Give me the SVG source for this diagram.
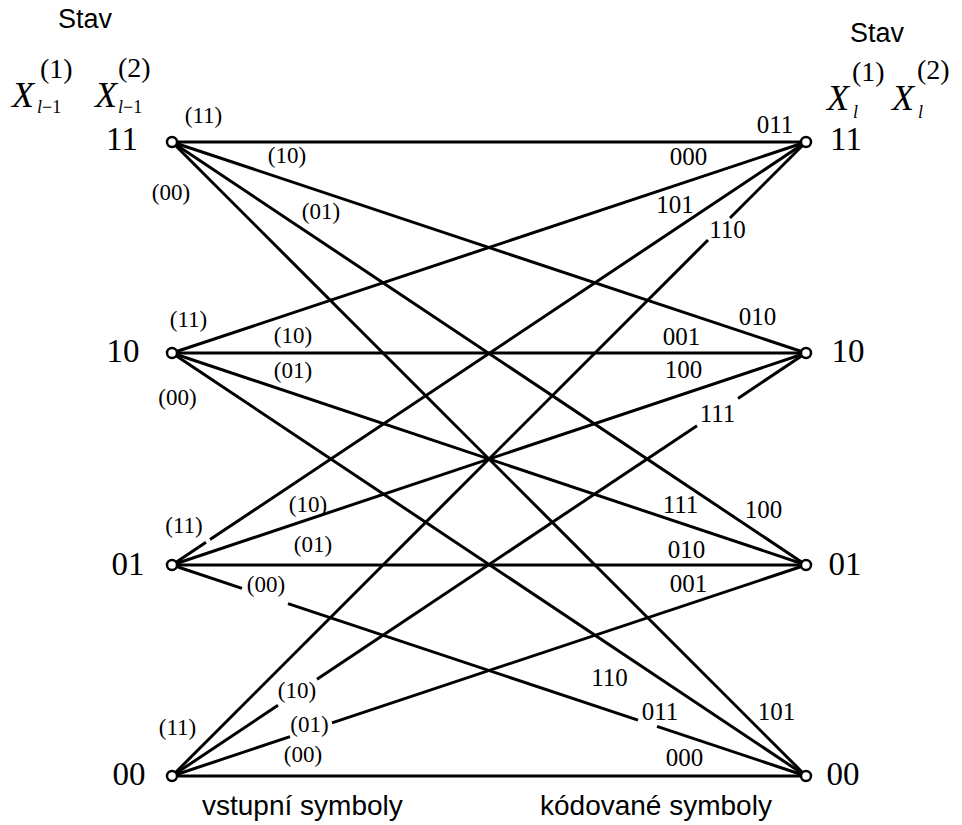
<svg xmlns="http://www.w3.org/2000/svg" width="962" height="825" viewBox="0 0 962 825">
<style>
.e{stroke:#000;stroke-width:3;fill:none;stroke-linecap:butt}
.n{fill:#fff;stroke:#000;stroke-width:2.5}
.nl{font-family:"Liberation Serif","Times New Roman",serif;font-size:33px;text-anchor:middle;fill:#000}
.il{font-family:"Liberation Serif","Times New Roman",serif;font-size:23px;text-anchor:middle;fill:#000}
.ol{font-family:"Liberation Serif","Times New Roman",serif;font-size:25px;text-anchor:middle;fill:#000}
.s{font-family:"Liberation Sans",Arial,sans-serif;font-size:28px;fill:#000}
.st{font-family:"Liberation Sans",Arial,sans-serif;font-size:27px;fill:#000}
.x{font-family:"Liberation Serif","Times New Roman",serif;font-size:36px;font-style:italic;fill:#000}
.sup{font-family:"Liberation Serif","Times New Roman",serif;font-size:28px;fill:#000}
.sub{font-family:"Liberation Serif","Times New Roman",serif;font-size:18px;fill:#000}
</style>
<rect width="962" height="825" fill="#fff"/>
<g id="connectors">
<!-- from L11 -->
<line class="e" x1="172" y1="142" x2="806" y2="142"/>
<line class="e" x1="172" y1="142" x2="806" y2="353"/>
<line class="e" x1="172" y1="142" x2="806" y2="565"/>
<line class="e" x1="172" y1="142" x2="806" y2="776"/>
<!-- from L10 -->
<line class="e" x1="172" y1="353" x2="806" y2="142"/>
<line class="e" x1="172" y1="353" x2="806" y2="353"/>
<line class="e" x1="172" y1="353" x2="806" y2="565"/>
<line class="e" x1="172" y1="353" x2="806" y2="776"/>
<!-- from L01 -->
<line class="e" x1="172" y1="565" x2="206" y2="542.3"/>
<line class="e" x1="210" y1="539.6" x2="806" y2="142"/>
<line class="e" x1="172" y1="565" x2="806" y2="353"/>
<line class="e" x1="172" y1="565" x2="806" y2="565"/>
<line class="e" x1="172" y1="565" x2="242" y2="588.3"/>
<line class="e" x1="288" y1="603.6" x2="638" y2="720.1"/>
<line class="e" x1="657" y1="726.4" x2="806" y2="776"/>
<!-- from L00 -->
<line class="e" x1="172" y1="776" x2="708" y2="240"/>
<line class="e" x1="730" y1="218" x2="806" y2="142"/>
<line class="e" x1="172" y1="776" x2="278" y2="705.3"/>
<line class="e" x1="317" y1="679.3" x2="697" y2="425.7"/>
<line class="e" x1="738" y1="398.4" x2="806" y2="353"/>
<line class="e" x1="172" y1="776" x2="290" y2="736.7"/>
<line class="e" x1="332" y1="722.8" x2="806" y2="565"/>
<line class="e" x1="172" y1="776" x2="806" y2="776"/>
</g>
<g id="edge-labels">
<text class="il" x="203.5" y="123">(11)</text>
<text class="il" x="287" y="163">(10)</text>
<text class="il" x="171" y="200">(00)</text>
<text class="il" x="321" y="219">(01)</text>
<text class="il" x="188.5" y="327">(11)</text>
<text class="il" x="293" y="343">(10)</text>
<text class="il" x="293" y="378">(01)</text>
<text class="il" x="177.5" y="405">(00)</text>
<text class="il" x="184" y="533">(11)</text>
<text class="il" x="308" y="512">(10)</text>
<text class="il" x="313" y="552">(01)</text>
<text class="il" x="266" y="592">(00)</text>
<text class="il" x="177.5" y="735">(11)</text>
<text class="il" x="297" y="698">(10)</text>
<text class="il" x="309.5" y="732">(01)</text>
<text class="il" x="303" y="762">(00)</text>
<text class="ol" x="775" y="133">011</text>
<text class="ol" x="688.5" y="165">000</text>
<text class="ol" x="675" y="213">101</text>
<text class="ol" x="727.5" y="238">110</text>
<text class="ol" x="757.5" y="325">010</text>
<text class="ol" x="681.5" y="345">001</text>
<text class="ol" x="683.5" y="378">100</text>
<text class="ol" x="717.5" y="422">111</text>
<text class="ol" x="680.5" y="513">111</text>
<text class="ol" x="763.5" y="518">100</text>
<text class="ol" x="686.5" y="558">010</text>
<text class="ol" x="688.5" y="592">001</text>
<text class="ol" x="609.5" y="686">110</text>
<text class="ol" x="660" y="720">011</text>
<text class="ol" x="776.5" y="720">101</text>
<text class="ol" x="684.5" y="766">000</text>
</g>
<g id="L11"><circle class="n" cx="172" cy="142" r="5"/><text class="nl" x="122" y="150">11</text></g>
<g id="L10"><circle class="n" cx="172" cy="353" r="5"/><text class="nl" x="123" y="362">10</text></g>
<g id="L01"><circle class="n" cx="172" cy="565" r="5"/><text class="nl" x="128" y="575">01</text></g>
<g id="L00"><circle class="n" cx="172" cy="776" r="5"/><text class="nl" x="129" y="785">00</text></g>
<g id="R11"><circle class="n" cx="806" cy="142" r="5"/><text class="nl" x="846" y="150">11</text></g>
<g id="R10"><circle class="n" cx="806" cy="353" r="5"/><text class="nl" x="848" y="362">10</text></g>
<g id="R01"><circle class="n" cx="806" cy="565" r="5"/><text class="nl" x="845" y="575">01</text></g>
<g id="R00"><circle class="n" cx="806" cy="776" r="5"/><text class="nl" x="843" y="785">00</text></g>
<g id="header-left">
<text class="st" x="58" y="28">Stav</text>
<text class="x" x="12" y="107">X</text>
<text class="sup" x="40" y="78">(1)</text>
<text class="sub" x="37" y="113"><tspan font-style="italic">l</tspan>−1</text>
<text class="x" x="95" y="107">X</text>
<text class="sup" x="118" y="77">(2)</text>
<text class="sub" x="118" y="113"><tspan font-style="italic">l</tspan>−1</text>
</g>
<g id="header-right">
<text class="st" x="850" y="42">Stav</text>
<text class="x" x="827" y="110">X</text>
<text class="sup" x="852" y="81">(1)</text>
<text class="sub" x="853" y="118" font-style="italic">l</text>
<text class="x" x="892" y="110">X</text>
<text class="sup" x="917" y="79">(2)</text>
<text class="sub" x="918" y="118" font-style="italic">l</text>
</g>
<text class="s" x="202" y="815">vstupní symboly</text>
<text class="s" x="540" y="815">kódované symboly</text>
</svg>
